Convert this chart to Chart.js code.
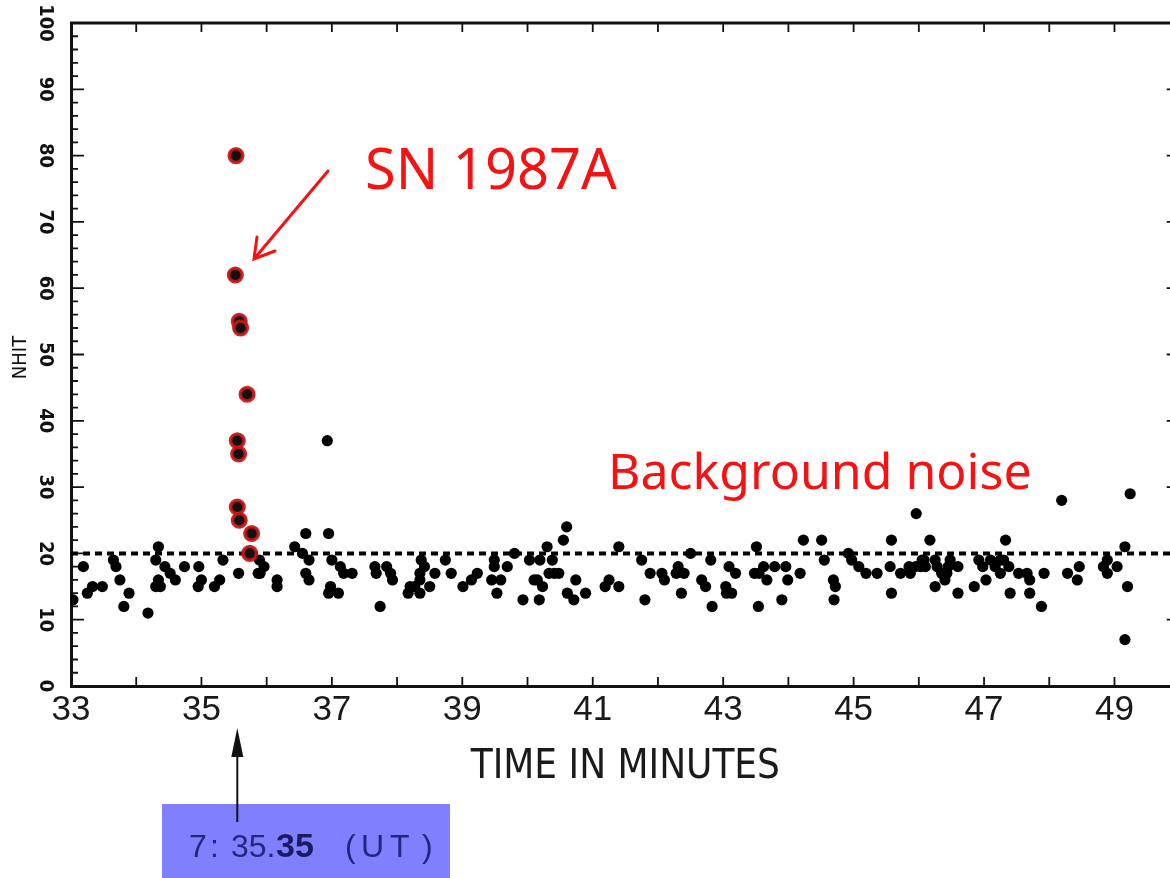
<!DOCTYPE html>
<html><head><meta charset="utf-8">
<script src="https://cdn.jsdelivr.net/npm/chart.js@4.4.1/dist/chart.umd.min.js"></script>
<style>html,body{margin:0;padding:0;background:#fff;overflow:hidden;width:1170px;height:878px}canvas{display:block}</style>
</head><body>
<canvas id="c" width="1190" height="878" style="width:1190px;height:878px"></canvas>
<script>
// ---- data ----
const xTickLabels = ['33','35','37','39','41','43','45','47','49'];
const yTickLabels = ['0','10','20','30','40','50','60','70','80','90','100'];
const xAxisTitle = 'TIME IN MINUTES';
const yAxisTitle = 'NHIT';

// Supernova burst events (red ringed)
const snX = [35.53, 35.52, 35.58, 35.60, 35.70, 35.55, 35.57, 35.55, 35.58, 35.77, 35.74];
const snY = [80, 62, 55, 54, 44, 37, 35, 27, 25, 23, 20];

// Background events
const bgX = [33.03,33.19,33.25,33.33,33.48,33.65,33.69,33.75,33.81,33.89,34.18,34.34,34.30,34.44,34.34,34.30,34.37,34.52,34.60,34.74,
  34.96,35.00,34.95,35.20,35.28,35.33,35.57,35.89,35.96,35.87,35.90,36.16,36.16,36.43,36.55,36.60,36.65,36.60,36.65,36.95,
  36.93,37.00,37.13,37.18,36.98,36.95,37.10,37.31,37.66,37.68,37.84,37.90,37.93,37.74,38.37,38.42,38.35,38.35,38.58,38.50,
  38.20,38.17,38.35,38.27,38.74,38.83,39.01,39.14,39.23,39.49,39.49,39.45,39.59,39.53,39.69,39.80,39.93,40.03,40.10,40.15,
  40.23,40.19,40.30,40.38,40.18,40.33,40.41,40.48,40.55,40.60,40.74,40.61,40.71,40.89,41.19,41.25,41.40,41.40,41.75,41.88,
  41.80,42.06,42.10,42.31,42.28,42.40,42.36,42.50,42.67,42.73,42.81,42.83,43.04,43.05,43.13,43.09,43.19,43.51,43.48,43.55,
  43.62,43.67,43.54,43.79,43.96,43.99,43.90,44.18,44.23,44.51,44.55,44.69,44.72,44.70,44.92,44.97,45.08,45.19,45.36,45.58,
  45.56,45.58,45.72,45.87,45.85,45.95,46.05,45.96,46.17,46.03,46.08,46.10,46.25,46.28,46.35,46.43,46.45,46.48,46.40,46.25,
  46.60,46.60,46.85,46.92,46.98,47.03,47.10,47.17,47.25,47.25,47.30,47.38,47.40,47.33,47.53,47.66,47.70,47.70,47.88,47.92,
  48.19,48.28,48.43,48.46,48.83,48.89,49.04,48.89,49.16,49.24,49.20,49.16];
const bgY = [13,18,14,15,15,19,18,16,12,14,11,21,19,18,16,15,15,17,16,18,
  18,16,15,15,16,19,17,19,18,17,17,16,15,21,20,23,19,17,16,23,
  37,19,18,17,15,14,14,17,18,17,18,17,16,12,19,18,17,16,17,15,
  15,14,14,15,19,17,15,16,17,19,18,16,16,14,18,20,13,19,16,16,
  15,19,21,19,13,17,17,17,22,24,16,14,13,14,15,16,21,15,19,17,
  13,17,16,18,17,17,14,20,16,15,19,12,15,14,14,18,17,21,17,17,
  18,16,12,18,18,16,13,17,22,22,19,16,15,13,20,19,18,17,17,22,
  18,14,17,17,18,18,19,26,22,18,19,18,19,18,17,17,18,19,16,15,
  18,14,15,19,18,16,19,18,17,19,19,18,14,22,17,17,16,14,12,17,
  28,17,16,18,18,17,18,19,21,29,15,7];

// threshold (dotted) line
const thrX = [33, 50];
const thrY = [20, 20];

const xMin = 33, xMax = 50, yMin = 0, yMax = 100;
const burstTime = 35.55;

const toPts = (xs, ys) => xs.map((v, i) => ({x: v, y: ys[i]}));

const COND = "'DejaVu Sans Condensed','DejaVu Sans',sans-serif";
const SANS = "'Liberation Sans',Arial,sans-serif";

// ---- frame + inward ticks, drawn from the scales ----
const frameTicks = {
  id: 'frameTicks',
  beforeDatasetsDraw(chart) {
    const {ctx, chartArea: a, scales: {x, y}} = chart;
    ctx.save();
    ctx.strokeStyle = '#111';
    ctx.lineWidth = 3;
    ctx.beginPath();
    ctx.moveTo(a.left - 1, a.top);
    ctx.lineTo(a.right, a.top);
    ctx.lineTo(a.right, a.bottom);
    ctx.stroke();
    ctx.lineWidth = 1.8;
    ctx.beginPath();
    for (let m = xMin + 1; m < xMax; m++) {
      const px = x.getPixelForValue(m);
      ctx.moveTo(px, a.bottom); ctx.lineTo(px, a.bottom - 9);
      ctx.moveTo(px, a.top); ctx.lineTo(px, a.top + 9);
    }
    for (let v = yMin + 2; v < yMax; v += 2) {
      const py = y.getPixelForValue(v);
      const len = v % 10 === 0 ? 13 : 7;
      ctx.moveTo(a.left, py); ctx.lineTo(a.left + len, py);
      ctx.moveTo(a.right, py); ctx.lineTo(a.right - len, py);
    }
    ctx.stroke();
    // y-axis title, centred on the y scale
    ctx.fillStyle = '#111';
    ctx.font = `400 20px ${COND}`;
    ctx.textAlign = 'center';
    ctx.textBaseline = 'middle';
    ctx.translate(21, (y.top + y.bottom) / 2 + 3);
    ctx.rotate(-Math.PI / 2);
    ctx.fillText(yAxisTitle, 0, 0);
    ctx.restore();
  }
};

// ---- annotations ----
function fitText(ctx, text, family, weight, targetW, x, baseline) {
  ctx.font = `${weight} 100px ${family}`;
  const w = ctx.measureText(text).width;
  const size = Math.round(100 * targetW / w);
  ctx.font = `${weight} ${size}px ${family}`;
  ctx.fillText(text, x, baseline);
}
const annotations = {
  id: 'annotations',
  afterDraw(chart) {
    const {ctx, scales: {x}} = chart;
    ctx.save();
    // red labels
    ctx.fillStyle = '#f51212';
    ctx.textBaseline = 'alphabetic';
    ctx.textAlign = 'left';
    fitText(ctx, 'SN 1987A', "'Noto Sans',sans-serif", 400, 252, 365, 189);
    fitText(ctx, 'Background noise', "'Noto Sans',sans-serif", 400, 424, 608, 489);
    // red arrow
    ctx.strokeStyle = '#f51212';
    ctx.lineWidth = 3;
    ctx.lineCap = 'round';
    ctx.beginPath();
    ctx.moveTo(328, 171);
    ctx.lineTo(254, 259);
    ctx.moveTo(257, 237);
    ctx.lineTo(254, 259);
    ctx.lineTo(275, 251);
    ctx.stroke();
    // blue box
    ctx.fillStyle = '#8080ff';
    ctx.fillRect(162, 804, 288, 74);
    // black arrow
    const ax = x.getPixelForValue(burstTime);
    ctx.strokeStyle = '#111';
    ctx.lineWidth = 2;
    ctx.lineCap = 'butt';
    ctx.beginPath();
    ctx.moveTo(ax, 822); ctx.lineTo(ax, 750);
    ctx.stroke();
    ctx.fillStyle = '#111';
    ctx.beginPath();
    ctx.moveTo(ax, 728); ctx.lineTo(ax - 6, 757); ctx.lineTo(ax + 6, 757); ctx.closePath();
    ctx.fill();
    // time text
    ctx.fillStyle = '#25257f';
    ctx.font = `400 32px ${SANS}`;
    ctx.fillText('7', 189, 857);
    ctx.fillText(':', 210, 857);
    ctx.fillText('35.', 231, 857);
    ctx.fillStyle = '#1a1a66';
    ctx.font = `700 34px ${SANS}`;
    ctx.fillText('35', 276, 857);
    ctx.fillStyle = '#25257f';
    ctx.font = `400 32px ${SANS}`;
    ctx.fillText('(', 345, 857);
    ctx.fillText('U', 361, 857);
    ctx.fillText('T', 390, 857);
    ctx.fillText(')', 422, 857);
    ctx.restore();
  }
};

new Chart(document.getElementById('c'), {
  type: 'scatter',
  data: {
    datasets: [
      {
        label: 'SN 1987A',
        data: toPts(snX, snY),
        pointRadius: 6.8,
        pointBackgroundColor: '#111',
        pointBorderColor: 'rgba(200,22,22,0.92)',
        pointBorderWidth: 3.5,
        order: 0
      },
      {
        label: 'background',
        data: toPts(bgX, bgY),
        pointRadius: 5.6,
        pointBackgroundColor: '#000',
        pointBorderWidth: 0,
        order: 1
      },
      {
        type: 'line',
        label: 'threshold',
        data: toPts(thrX, thrY),
        borderColor: '#000',
        borderWidth: 4,
        borderDash: [7, 5],
        pointRadius: 0,
        fill: false,
        order: 2
      }
    ]
  },
  options: {
    responsive: false,
    animation: false,
    devicePixelRatio: 1,
    layout: {padding: {left: 0, right: 4, top: 23, bottom: 86}},
    plugins: {legend: {display: false}, tooltip: {enabled: false}, title: {display: false}},
    scales: {
      x: {
        type: 'linear',
        min: xMin, max: xMax,
        grid: {display: false, drawTicks: false},
        border: {display: true, color: '#111', width: 3},
        ticks: {
          stepSize: 1, autoSkip: false, maxRotation: 0, minRotation: 0, padding: 3,
          color: '#1a1a1a', font: {family: SANS, size: 35, weight: 400},
          callback: v => xTickLabels.includes(String(v)) ? String(v) : ''
        },
        title: {display: true, text: xAxisTitle, color: '#1a1a1a',
          font: {family: COND, size: 40, weight: 400}, padding: {top: 0, bottom: 0}},
        afterFit: s => { s.height = 106; }
      },
      y: {
        type: 'linear',
        min: yMin, max: yMax,
        grid: {display: false, drawTicks: false},
        border: {display: true, color: '#111', width: 3},
        ticks: {
          stepSize: 10, minRotation: -90, maxRotation: -90, crossAlign: 'center', padding: 7,
          color: '#111', font: {family: COND, size: 20, weight: 700},
          callback: v => yTickLabels.includes(String(v)) ? String(v) : ''
        },
        title: {display: false, text: yAxisTitle},
        afterFit: s => { s.width = 71; }
      }
    }
  },
  plugins: [frameTicks, annotations]
});
</script>
</body></html>
